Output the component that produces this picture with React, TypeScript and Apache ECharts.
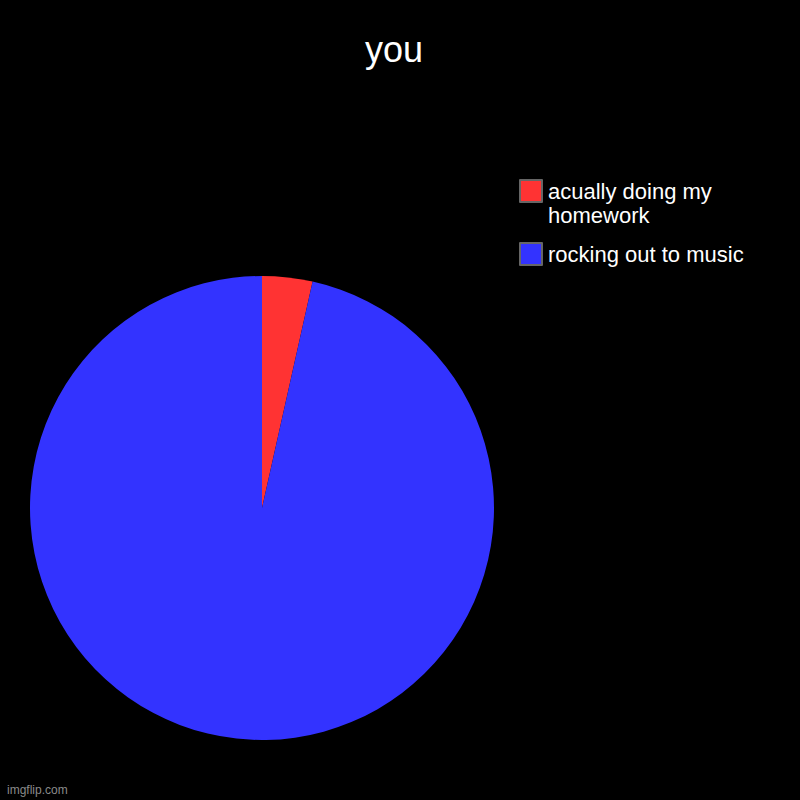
import { useEffect, useRef } from 'react'
import * as echarts from 'echarts'

const TITLE = 'you'
const CATEGORIES = ['acually doing my homework', 'rocking out to music']
const VALUES = [3.5, 96.5]
const COLORS = ['#ff3333', '#3333ff']
const WATERMARK = 'imgflip.com'

const FONT = "'Liberation Sans', Arial, sans-serif"
const LINE = 24

export default function App() {
  const ref = useRef<HTMLDivElement>(null)

  useEffect(() => {
    document.body.style.margin = '0'
    const el = ref.current
    if (!el) return
    const chart = echarts.init(el, null, { renderer: 'svg' })
    chart.setOption({
      animation: false,
      backgroundColor: '#000000',
      title: {
        text: TITLE,
        left: 365,
        top: 31,
        padding: 0,
        textStyle: { color: '#ffffff', fontSize: 36, fontWeight: 'normal', fontFamily: FONT },
      },
      legend: {
        orient: 'vertical',
        left: 519,
        top: 155,
        padding: 0,
        itemWidth: 22,
        itemHeight: 22,
        itemGap: 15,
        icon: 'rect',
        selectedMode: false,
        data: CATEGORIES,
        // the wrapped entry gets an empty first line so its swatch lines up with line one
        formatter: (name: string) => (name === CATEGORIES[0] ? '\n' + name : name),
        itemStyle: { borderColor: '#666666', borderWidth: 2 },
        textStyle: {
          color: '#ffffff',
          fontSize: 22,
          fontFamily: FONT,
          width: 210,
          overflow: 'break',
          lineHeight: LINE,
          padding: [0, 0, 0, 1],
        },
      },
      graphic: [
        {
          type: 'text',
          left: 7,
          top: 784,
          style: { text: WATERMARK, fill: '#8a8a8a', fontSize: 12, fontFamily: FONT },
        },
      ],
      series: [
        {
          type: 'pie',
          center: [262, 508],
          radius: 232,
          startAngle: 90,
          clockwise: true,
          label: { show: false },
          labelLine: { show: false },
          emphasis: { disabled: true },
          itemStyle: { borderWidth: 0 },
          data: CATEGORIES.map((name, i) => ({
            name,
            value: VALUES[i],
            itemStyle: { color: COLORS[i] },
          })),
        },
      ],
    })
    return () => chart.dispose()
  }, [])

  return <div ref={ref} style={{ position: 'absolute', left: 0, top: 0, width: 800, height: 800 }} />
}
